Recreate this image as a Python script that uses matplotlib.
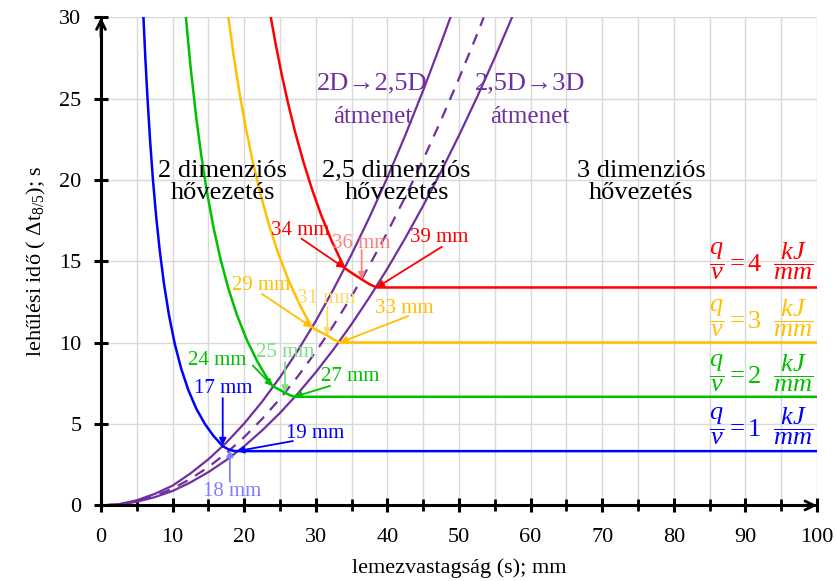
import matplotlib
matplotlib.use("Agg")
import matplotlib.pyplot as plt

plt.rcParams['font.family'] = ['Liberation Serif', 'DejaVu Serif']
plt.rcParams['mathtext.fontset'] = 'custom'
plt.rcParams['mathtext.rm'] = 'Liberation Serif'
plt.rcParams['mathtext.it'] = 'Liberation Serif:italic'
plt.rcParams['mathtext.bf'] = 'Liberation Serif:bold'

# ---- colours -------------------------------------------------------------
BLUE, GREEN, YELLOW, RED = '#0000ff', '#00c000', '#ffc000', '#ff0000'
PURPLE = '#7030a0'

# ---- cooling-time curves for q/v = 1..4 kJ/mm (thickness s in mm, t in s)
blue_s = [5.93, 6.2, 6.5, 6.85, 7.26, 7.7, 8.2, 8.8, 9.5, 10.3, 11.2, 12.2, 13.3, 14.5,
          15.7, 17.0, 17.5, 18.0, 18.5, 19.0, 100.0]
blue_t = [30.0, 27.45, 25.0, 22.48, 20.0, 17.79, 15.69, 13.62, 11.69, 9.94, 8.41, 7.09,
          5.96, 5.02, 4.28, 3.65, 3.52, 3.42, 3.36, 3.34, 3.34]

green_s = [11.86, 12.5, 13.3, 14.0, 14.8, 15.7, 16.7, 17.8, 19.0, 20.4, 21.9, 23.0, 24.0,
           25.0, 25.7, 26.5, 27.0, 100.0]
green_t = [30.0, 27.0, 23.86, 21.53, 19.27, 17.12, 15.13, 13.32, 11.69, 10.14, 8.80, 7.98,
           7.33, 7.10, 6.93, 6.76, 6.68, 6.68]

yellow_s = [17.79, 18.5, 19.3, 20.2, 21.2, 22.3, 23.5, 24.8, 26.2, 27.8, 29.45,
            30.5, 31.6, 32.5, 33.4, 100.0]
yellow_t = [30.0, 27.74, 25.48, 23.26, 21.12, 19.09, 17.19, 15.44, 13.83, 12.29, 10.95,
            10.70, 10.45, 10.20, 10.02, 10.02]

red_s = [23.72, 24.4, 25.2, 26.1, 27.1, 28.2, 29.4, 30.7, 32.2, 34.0,
         35.0, 36.4, 37.5, 38.5, 100.0]
red_t = [30.0, 28.35, 26.58, 24.78, 22.98, 21.23, 19.53, 17.91, 16.28, 14.6,
         14.3, 13.9, 13.6, 13.4, 13.4]

# ---- transition boundaries -------------------------------------------------
trans_2d_s = [0, 2.5, 5, 7.5, 10, 12.5, 15, 17.5, 20, 22.5, 25, 27.5, 30, 32.5, 35,
              37.5, 40, 42.5, 45, 47.5, 48.8]
trans_2d_t = [0, 0.08, 0.32, 0.71, 1.22, 1.97, 2.84, 3.86, 5.04, 6.38, 7.88, 9.53, 11.34,
              13.31, 15.44, 17.72, 20.16, 22.76, 25.52, 28.43, 30.0]

trans_mid_s = [0, 2.5, 5, 7.5, 10, 12.5, 15, 17.5, 20, 22.5, 25, 27.5, 30, 32.5, 35,
               37.5, 40, 42.5, 45, 47.5, 50, 52.5, 53.45]
trans_mid_t = [0, 0.07, 0.26, 0.59, 1.03, 1.64, 2.36, 3.22, 4.2, 5.32, 6.56, 7.94, 9.45,
               11.09, 12.86, 14.77, 16.8, 18.97, 21.26, 23.69, 26.25, 28.94, 30.0]

trans_3d_s = [0, 2.5, 5, 7.5, 10, 12.5, 15, 17.5, 20, 22.5, 25, 27.5, 30, 32.5, 35,
              37.5, 40, 42.5, 45, 47.5, 50, 52.5, 55, 57.4]
trans_3d_t = [0, 0.06, 0.23, 0.51, 0.89, 1.42, 2.05, 2.79, 3.64, 4.61, 5.69, 6.88, 8.19,
              9.61, 11.15, 12.80, 14.56, 16.44, 18.43, 20.53, 22.75, 25.08, 27.53, 30.0]

# ---- critical thicknesses: (label, colour, text xy, arrow start, arrow tip)
crit_labels = [
    ('17 mm', BLUE, (17.0, 7.2), (17.0, 6.6), (17.0, 3.7)),
    ('18 mm', '#8080ff', (18.3, 0.85), (18.0, 1.45), (18.0, 3.42)),
    ('19 mm', BLUE, (29.9, 4.45), (26.8, 3.96), (19.0, 3.34)),
    ('24 mm', GREEN, (16.2, 8.9), (21.2, 8.6), (24.0, 7.33)),
    ('25 mm', '#80e080', (25.7, 9.4), (25.7, 8.8), (25.7, 6.93)),
    ('27 mm', GREEN, (34.8, 7.95), (32.0, 7.35), (27.0, 6.68)),
    ('29 mm', YELLOW, (22.4, 13.55), (22.5, 13.0), (29.45, 10.95)),
    ('31 mm', '#ffd966', (31.5, 12.75), (31.6, 12.2), (31.6, 10.45)),
    ('33 mm', YELLOW, (42.3, 12.1), (42.9, 11.64), (33.4, 10.02)),
    ('34 mm', RED, (27.8, 16.9), (28.0, 16.4), (34.0, 14.6)),
    ('36 mm', '#ff8080', (36.4, 16.1), (36.4, 15.7), (36.4, 13.9)),
    ('39 mm', RED, (47.3, 16.5), (47.6, 15.9), (38.5, 13.4)),
]

heat_inputs = [4, 3, 2, 1]
heat_colors = [RED, YELLOW, GREEN, BLUE]
heat_label_y = [15.0, 11.5, 8.14, 4.84]

x_ticks = list(range(0, 101, 10))
y_ticks = list(range(0, 31, 5))

fig = plt.figure(figsize=(8.36, 5.81), dpi=100)
ax = fig.add_axes([0.1208, 0.130, 0.8565, 0.840])
ax.set_xlim(0, 100)
ax.set_ylim(0, 30)

# grid every 5 units
ax.set_xticks(x_ticks)
ax.set_xticks(list(range(5, 100, 10)), minor=True)
ax.set_yticks(y_ticks)
ax.grid(True, which='both', color='#d9d9d9', lw=1.0, zorder=0)
ax.set_axisbelow(True)

for side in ('top', 'right'):
    ax.spines[side].set_visible(False)
for side in ('left', 'bottom'):
    ax.spines[side].set_linewidth(2.2)
    ax.spines[side].set_zorder(5)

ax.tick_params(axis='both', which='major', direction='inout', length=10, width=2.2,
               labelsize=16)
ax.tick_params(axis='y', which='major', pad=9)
ax.tick_params(axis='x', which='major', pad=11)
ax.tick_params(axis='x', which='minor', direction='inout', length=8, width=2.0)

# axis arrowheads
ax.annotate('', xy=(0, 1.0), xytext=(0, 0.96), xycoords='axes fraction',
            arrowprops=dict(arrowstyle='->', lw=2.0, color='black',
                            mutation_scale=16, shrinkA=0, shrinkB=0), zorder=6)
ax.annotate('', xy=(1.0, 0), xytext=(0.96, 0), xycoords='axes fraction',
            arrowprops=dict(arrowstyle='->', lw=2.0, color='black',
                            mutation_scale=16, shrinkA=0, shrinkB=0), zorder=6)

# boundary curves
ax.plot(trans_2d_s, trans_2d_t, color=PURPLE, lw=1.6, zorder=3)
ax.plot(trans_mid_s, trans_mid_t, color=PURPLE, lw=1.6, ls=(0, (5, 4)), zorder=3)
ax.plot(trans_3d_s, trans_3d_t, color=PURPLE, lw=1.6, zorder=3)

# cooling-time curves
for s, t, c in [(blue_s, blue_t, BLUE), (green_s, green_t, GREEN),
                (yellow_s, yellow_t, YELLOW), (red_s, red_t, RED)]:
    ax.plot(s, t, color=c, lw=1.8, zorder=4, solid_joinstyle='round')

# critical thickness annotations
for text, col, txy, start, tip in crit_labels:
    ax.text(txy[0], txy[1], text, color=col, fontsize=15, ha='center', va='center',
            zorder=6)
    ax.annotate('', xy=tip, xytext=start,
                arrowprops=dict(arrowstyle='-|>', color=col, lw=1.3,
                                mutation_scale=10, shrinkA=0, shrinkB=0), zorder=6)

# heat input labels
for q, col, y in zip(heat_inputs, heat_colors, heat_label_y):
    ax.text(92.3, y, r'$\dfrac{q}{v} = %d\ \ \dfrac{kJ}{mm}$' % q, color=col,
            fontsize=19, ha='center', va='center', zorder=6)

# region labels
region_kw = dict(fontsize=19, ha='center', va='center', linespacing=1.0, zorder=6)
ax.text(17.0, 19.9, '2 dimenziós\nhővezetés', **region_kw)
ax.text(41.3, 19.9, '2,5 dimenziós\nhővezetés', **region_kw)
ax.text(75.4, 19.9, '3 dimenziós\nhővezetés', **region_kw)
ax.text(37.9, 25.95, '2D→2,5D', color=PURPLE, fontsize=19, ha='center', va='center')
ax.text(37.9, 23.9, 'átmenet', color=PURPLE, fontsize=18, ha='center', va='center')
ax.text(59.9, 25.95, '2,5D→3D', color=PURPLE, fontsize=19, ha='center', va='center')
ax.text(59.9, 23.9, 'átmenet', color=PURPLE, fontsize=18, ha='center', va='center')

ax.set_xlabel('lemezvastagság (s); mm', fontsize=16, labelpad=8)
ax.set_ylabel(r'lehűlési idő ( Δt$_{\mathrm{8/5}}$); s', fontsize=16, labelpad=8)

fig.savefig('out.png', dpi=100)
